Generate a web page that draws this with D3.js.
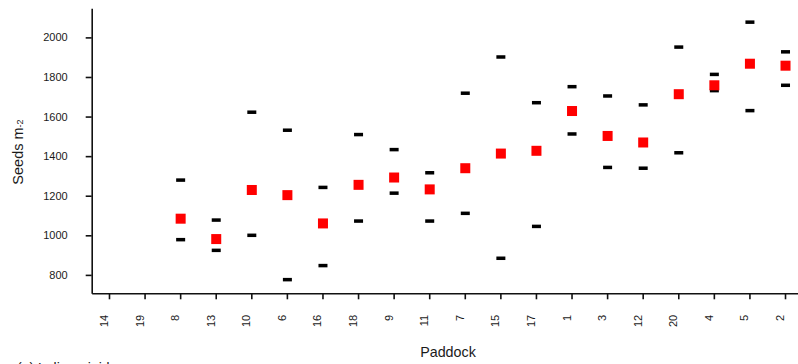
<!DOCTYPE html>
<html>
<head>
<meta charset="utf-8">
<script src="https://cdn.jsdelivr.net/npm/d3@7"></script>
<style>
  body { margin: 0; background: #fff; }
  svg { display: block; font-family: "Liberation Sans", Arial, sans-serif; }
</style>
</head>
<body>
<div id="chart"></div>
<script>
// paddocks in plotted order (sorted by mean)
const paddocks = ["14","19","8","13","10","6","16","18","9","11","7","15","17","1","3","12","20","4","5","2"];
// seeds per m2 - mean (red) and upper / lower bounds (black bars)
const meanSeeds  = [null,null,1084,981,1229,1203,1060,1255,1292,1232,1339,1413,1427,1628,1502,1469,1713,1758,1867,1857];
const upperSeeds = [null,null,1279,1077,1622,1531,1242,1509,1433,1316,1718,1901,1670,1751,1704,1659,1951,1813,2077,1927];
const lowerSeeds = [null,null,978,924,1000,776,847,1072,1213,1072,1111,884,1045,1512,1343,1339,1417,1731,1630,1758];
const yTicks = [800,1000,1200,1400,1600,1800,2000];

const chartWidth = 798, chartHeight = 364;

const svg = d3.select("#chart")
    .append("svg")
    .attr("width", chartWidth)
    .attr("height", chartHeight);

// plot area edges
const plotLeft = 91.7, plotBottom = 293.3, plotTop = 8.3;

const x = d3.scaleBand()
    .domain(paddocks)
    .range([plotLeft, plotLeft + paddocks.length * 35.58]);

const y = d3.scaleLinear()
    .domain([707, 2147])
    .range([plotBottom, plotTop]);

// y axis
const yAxis = svg.append("g")
    .attr("transform", "translate(" + plotLeft + ",0)")
    .call(d3.axisLeft(y).tickValues(yTicks).tickFormat(d3.format("d"))
        .tickSize(6).tickSizeOuter(0).tickPadding(18));
yAxis.selectAll("text")
    .attr("font-size", "11px")
    .attr("fill", "#1a1a1a")
    .attr("font-family", "Liberation Sans, Arial, sans-serif");

// x axis
const xAxis = svg.append("g")
    .attr("transform", "translate(0," + plotBottom + ")")
    .call(d3.axisBottom(x).tickSize(6).tickSizeOuter(0));
xAxis.selectAll(".tick text")
    .attr("font-size", "11px")
    .attr("fill", "#1a1a1a")
    .attr("font-family", "Liberation Sans, Arial, sans-serif")
    .attr("text-anchor", "end")
    .attr("transform", "rotate(-90)")
    .attr("x", -21.5)
    .attr("y", -1.5)
    .attr("dy", 0);

svg.selectAll(".domain, .tick line")
    .attr("stroke", "#111")
    .attr("stroke-width", 1.6);

// rows built from the arrays
const rows = paddocks.map((p, i) => ({
    paddock: p, mean: meanSeeds[i], upper: upperSeeds[i], lower: lowerSeeds[i]
})).filter(d => d.mean !== null);

const cx = d => x(d.paddock) + x.bandwidth() / 2;

// range bars
svg.append("g").selectAll("rect.upper")
    .data(rows)
    .enter().append("rect")
    .attr("x", d => cx(d) - 4.5)
    .attr("y", d => y(d.upper) - 1.75)
    .attr("width", 9)
    .attr("height", 3.5)
    .attr("fill", "#000");

svg.append("g").selectAll("rect.lower")
    .data(rows)
    .enter().append("rect")
    .attr("x", d => cx(d) - 4.5)
    .attr("y", d => y(d.lower) - 1.75)
    .attr("width", 9)
    .attr("height", 3.5)
    .attr("fill", "#000");

// means
svg.append("g").selectAll("rect.mean")
    .data(rows)
    .enter().append("rect")
    .attr("x", d => cx(d) - 5)
    .attr("y", d => y(d.mean) - 5)
    .attr("width", 10)
    .attr("height", 10)
    .attr("fill", "#ff0000");

// axis titles
svg.append("text")
    .attr("x", 448)
    .attr("y", 356.5)
    .attr("text-anchor", "middle")
    .attr("font-size", "14.3px")
    .attr("fill", "#1a1a1a")
    .text("Paddock");

const yTitle = svg.append("text")
    .attr("transform", "translate(23,152) rotate(-90)")
    .attr("text-anchor", "middle")
    .attr("font-size", "14.5px")
    .attr("fill", "#1a1a1a");
yTitle.append("tspan").text("Seeds m");
yTitle.append("tspan").attr("font-size", "9px").text("-2");

// panel caption, cut by the bottom edge as in the source figure
svg.append("text")
    .attr("x", 17)
    .attr("y", 373)
    .attr("font-size", "14px")
    .attr("fill", "#1a1a1a")
    .text("(a)      Lolium rigidum");
</script>
</body>
</html>
